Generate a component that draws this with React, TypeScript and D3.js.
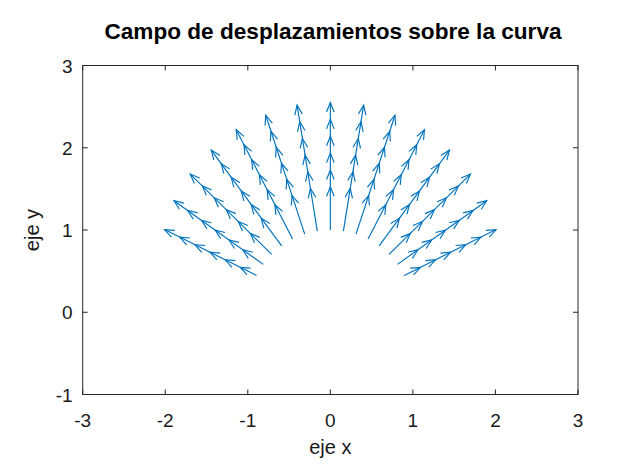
import React from "react";
import * as d3 from "d3";

const W = 639;
const H = 476;

const xTicks = [-3, -2, -1, 0, 1, 2, 3];
const yTicks = [-1, 0, 1, 2, 3];

// ray directions (deg) of the displacement arrows
const rayAnglesDeg = [26.6, 35.6, 44.7, 53.8, 62.8, 71.9, 80.9, 90, 99.1, 108.1, 117.2, 126.2, 135.3, 144.4, 153.4];
// radius of the outermost arrow tip on each ray
const tipRadius = [2.245, 2.33, 2.388, 2.443, 2.495, 2.52, 2.55, 2.55, 2.55, 2.52, 2.495, 2.443, 2.388, 2.33, 2.245];
// base curve radius
const baseRadius = 1;
// arrowhead positions measured back from the outer tip (data units)
const headOffsets = [0, 0.205, 0.41, 0.615, 0.82, 1.025];

const title = "Campo de desplazamientos sobre la curva";
const xLabel = "eje x";
const yLabel = "eje y";

export default function App() {
  const left = 82.7, right = 578, top = 65.5, bottom = 394.5;
  const x = d3.scaleLinear().domain([-3, 3]).range([left, right]);
  const y = d3.scaleLinear().domain([-1, 3]).range([bottom, top]);
  const font = "'Liberation Sans', Arial, Helvetica, sans-serif";
  const axisColor = "#262626";
  const lineColor = "#0072BD";
  const tickLen = 5;
  const hl = 9.5, hw = 3.8;

  const line = d3.line<[number, number]>().x((d) => x(d[0])).y((d) => y(d[1]));

  const rays = rayAnglesDeg.map((deg, i) => {
    const t = (deg * Math.PI) / 180;
    const c = Math.cos(t), s = Math.sin(t);
    const base: [number, number] = [baseRadius * c, baseRadius * s];
    const tip: [number, number] = [tipRadius[i] * c, tipRadius[i] * s];
    const shaft = line([base, tip]) || "";
    const heads = headOffsets.map((off) => {
      const r = tipRadius[i] - off;
      const px = x(r * c), py = y(r * s);
      const bx = x(base[0]), by = y(base[1]);
      let dx = px - bx, dy = py - by;
      const len = Math.hypot(dx, dy);
      dx /= len; dy /= len;
      const nx = -dy, ny = dx;
      const b1x = px - dx * hl + nx * hw, b1y = py - dy * hl + ny * hw;
      const b2x = px - dx * hl - nx * hw, b2y = py - dy * hl - ny * hw;
      return `M${b1x},${b1y}L${px},${py}L${b2x},${b2y}`;
    });
    return { shaft, heads };
  });

  return (
    <svg
      width={W}
      height={H}
      style={{ position: "absolute", left: 0, top: 0, background: "#fff" }}
      fontFamily={font}
    >
      <rect x={0} y={0} width={W} height={H} fill="#fff" />
      {/* arrows */}
      <g fill="none" stroke={lineColor} strokeWidth={1.15}>
        {rays.map((r, i) => (
          <g key={i}>
            <path d={r.shaft} />
            {r.heads.map((h, j) => (
              <path key={j} d={h} />
            ))}
          </g>
        ))}
      </g>
      {/* box */}
      <rect x={left} y={top} width={right - left} height={bottom - top} fill="none" stroke={axisColor} strokeWidth={1} />
      {/* ticks */}
      <g stroke={axisColor} strokeWidth={1}>
        {xTicks.map((t) => (
          <g key={"xt" + t}>
            <line x1={x(t)} x2={x(t)} y1={bottom} y2={bottom - tickLen} />
            <line x1={x(t)} x2={x(t)} y1={top} y2={top + tickLen} />
          </g>
        ))}
        {yTicks.map((t) => (
          <g key={"yt" + t}>
            <line x1={left} x2={left + tickLen} y1={y(t)} y2={y(t)} />
            <line x1={right} x2={right - tickLen} y1={y(t)} y2={y(t)} />
          </g>
        ))}
      </g>
      {/* tick labels */}
      <g fill="#1a1a1a" fontSize={19}>
        {xTicks.map((t) => (
          <text key={"xl" + t} x={x(t)} y={bottom + 32} textAnchor="middle">
            {t}
          </text>
        ))}
        {yTicks.map((t) => (
          <text key={"yl" + t} x={left - 10} y={y(t) + 7} textAnchor="end">
            {t}
          </text>
        ))}
      </g>
      {/* axis labels */}
      <text x={(left + right) / 2} y={454} textAnchor="middle" fontSize={20} fill="#1a1a1a">
        {xLabel}
      </text>
      <text
        transform={`translate(39,${(top + bottom) / 2}) rotate(-90)`}
        textAnchor="middle"
        fontSize={20}
        fill="#1a1a1a"
      >
        {yLabel}
      </text>
      {/* title */}
      <text x={333} y={39} textAnchor="middle" fontSize={22.6} fontWeight="bold" fill="#000">
        {title}
      </text>
    </svg>
  );
}
